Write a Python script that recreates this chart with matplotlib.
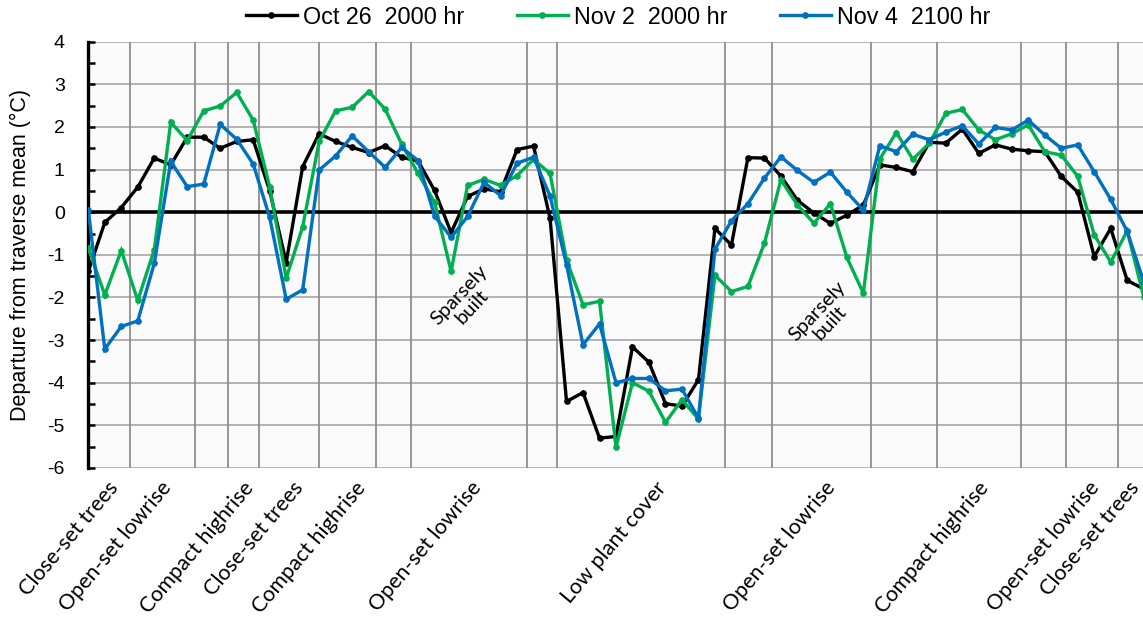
import matplotlib
matplotlib.use("Agg")
import matplotlib.pyplot as plt
import numpy as np

plt.rcParams["axes.unicode_minus"] = False

# Temperature departures along the traverse (°C), one value per station
oct26 = [
    -1.39, -0.24, 0.11, 0.59, 1.27, 1.11, 1.76, 1.76, 1.50, 1.66, 1.70, 0.50, -1.18, 1.07, 1.84, 1.66,
    1.52, 1.40, 1.56, 1.29, 1.20, 0.51, -0.48, 0.37, 0.55, 0.48, 1.47, 1.55, -0.14, -4.44, -4.23, -5.30,
    -5.26, -3.16, -3.52, -4.49, -4.55, -3.93, -0.38, -0.77, 1.28, 1.27, 0.85, 0.28, -0.02, -0.26, -0.07, 0.17,
    1.11, 1.05, 0.95, 1.64, 1.62, 1.95, 1.38, 1.58, 1.48, 1.44, 1.42, 0.84, 0.47, -1.04, -0.38, -1.60, -1.80,
]
nov2 = [
    -0.84, -1.94, -0.90, -2.07, -0.88, 2.11, 1.68, 2.38, 2.49, 2.81, 2.16, 0.59, -1.55, -0.34, 1.66, 2.38,
    2.46, 2.83, 2.42, 1.60, 0.91, 0.23, -1.39, 0.63, 0.77, 0.63, 0.86, 1.24, 0.91, -1.12, -2.17, -2.09,
    -5.51, -4.00, -4.20, -4.93, -4.40, -4.85, -1.48, -1.86, -1.74, -0.73, 0.76, 0.17, -0.26, 0.20, -1.06, -1.90,
    1.25, 1.87, 1.24, 1.62, 2.32, 2.41, 1.93, 1.70, 1.84, 2.05, 1.42, 1.34, 0.84, -0.53, -1.17, -0.44, -1.98,
]
nov4 = [
    0.05, -3.21, -2.68, -2.55, -1.20, 1.19, 0.60, 0.66, 2.06, 1.71, 1.13, -0.12, -2.04, -1.82, 0.99, 1.32,
    1.79, 1.42, 1.05, 1.52, 1.21, -0.09, -0.59, -0.10, 0.70, 0.39, 1.15, 1.29, 0.38, -1.23, -3.11, -2.62,
    -4.00, -3.90, -3.90, -4.19, -4.15, -4.83, -0.87, -0.20, 0.20, 0.80, 1.30, 0.98, 0.70, 0.94, 0.47, 0.05,
    1.56, 1.42, 1.83, 1.70, 1.88, 2.03, 1.60, 1.99, 1.93, 2.16, 1.81, 1.50, 1.58, 0.95, 0.30, -0.45, -1.63,
]
series_names = ["Oct 26  2000 hr", "Nov 2  2000 hr", "Nov 4  2100 hr"]

# Local climate zone boundaries (station index) and zone labels
zone_bounds = [2.53, 6.5, 8.46, 10.37, 13.98, 17.46, 19.54, 26.6, 28.4,
               38.6, 41.45, 47.48, 51.44, 56.58, 59.3, 62.46]
zone_label_pos = [1.15, 4.35, 9.35, 12.35, 16.15, 23.15, 34.35, 44.65, 53.95, 60.65, 63.05]
zone_labels = ["Close-set trees", "Open-set lowrise", "Compact highrise", "Close-set trees",
               "Compact highrise", "Open-set lowrise", "Low plant cover", "Open-set lowrise",
               "Compact highrise", "Open-set lowrise", "Close-set trees"]
notes = [(22.9, -2.08, "Sparsely\nbuilt"), (44.6, -2.45, "Sparsely\nbuilt")]

colors = ["#000000", "#00b050", "#0070c0"]

W, H = 1143, 619
fig = plt.figure(figsize=(W / 100, H / 100), dpi=100)
x0, x1 = 88.3, 1143.7
ytop, ybot = 41.7, 468.0
ax = fig.add_axes([x0 / W, 1 - ybot / H, (x1 - x0) / W, (ybot - ytop) / H])
ax.set_facecolor("#fafafa")

n = len(oct26)
x = np.arange(n)
ax.set_xlim(0, n - 1)
ax.set_ylim(-6, 4)

# horizontal grid
for v in range(-6, 5):
    ax.axhline(v, color="#b4b4b4", lw=1.4, zorder=1)
# zone boundary lines
for b in zone_bounds:
    ax.axvline(b, color="#8e8e8e", lw=1.3, zorder=1)
ax.axhline(0, color="black", lw=2.6, zorder=2)

for vals, c, name in zip([oct26, nov2, nov4], colors, series_names):
    ax.plot(x, vals, color=c, lw=2.4, marker="o", ms=3.8, label=name, zorder=3,
            solid_joinstyle="miter")

for spine in ["top", "right", "bottom"]:
    ax.spines[spine].set_visible(False)
ax.spines["left"].set_linewidth(2.4)
ax.spines["left"].set_color("black")

ax.set_yticks(range(-6, 5))
ax.set_yticks(np.arange(-6, 4.01, 0.5), minor=True)
ax.tick_params(axis="y", which="both", direction="in", length=5, width=1.8,
               labelsize=14, pad=17)
for t in ax.get_yticklabels():
    t.set_fontfamily("Liberation Sans")

ax.set_xticks(zone_label_pos)
ax.set_xticklabels(zone_labels, rotation=50, ha="right", rotation_mode="anchor",
                   fontsize=15.5, fontfamily="Lato")
ax.tick_params(axis="x", length=0, pad=7)

ax.set_ylabel("Departure from traverse mean (°C)", fontsize=15.5,
              fontfamily="Liberation Sans")
ax.yaxis.set_label_coords((31 - x0) / (x1 - x0), 0.5)

for xi, yi, txt in notes:
    ax.text(xi, yi, txt, rotation=47, ha="center", va="center", fontsize=14.5,
            fontfamily="Lato", multialignment="center", linespacing=1.0, zorder=4)

fig.legend(loc="center", bbox_to_anchor=(618 / W, 1 - 17 / H), ncol=3, frameon=False,
           prop={"family": "Liberation Sans", "size": 16.8}, handlelength=2.2,
           handletextpad=0.25, columnspacing=2.25, borderpad=0)

fig.savefig("out.png", dpi=100)
